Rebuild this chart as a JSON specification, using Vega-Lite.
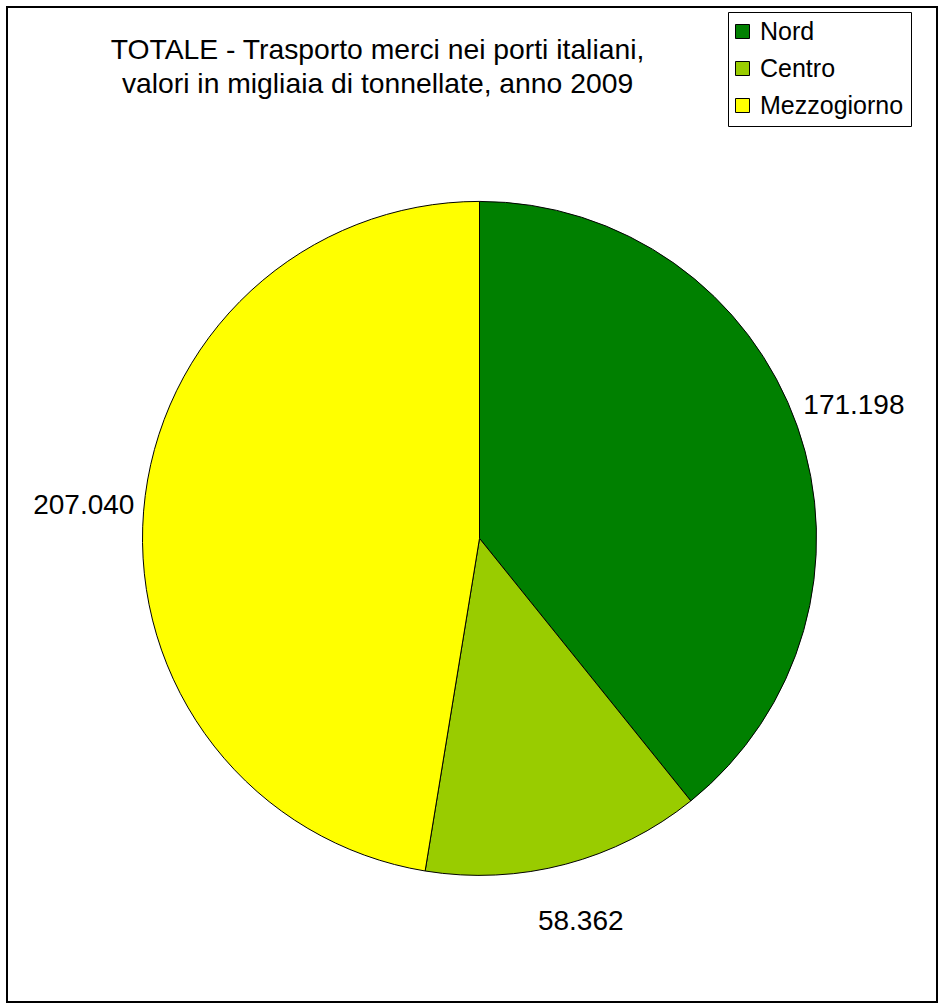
{
  "$schema": "https://vega.github.io/schema/vega-lite/v6.json",
  "autosize": "none",
  "width": 930,
  "height": 995,
  "padding": {"left": 7, "top": 7, "right": 7, "bottom": 6},
  "background": "white",
  "view": {"stroke": "black", "strokeWidth": 2},
  "config": {
    "view": {"stroke": "black", "strokeWidth": 2},
    "font": "Liberation Sans",
    "locale": {"number": {"decimal": ",", "thousands": ".", "grouping": [3], "currency": ["€", ""]}}
  },
  "title": {
    "text": ["TOTALE - Trasporto merci nei porti italiani,", "valori in migliaia di tonnellate, anno 2009"],
    "fontSize": 28.3,
    "font": "Liberation Sans",
    "fontWeight": "normal",
    "color": "black",
    "anchor": "middle",
    "frame": "group",
    "lineHeight": 34,
    "baseline": "top",
    "dx": -94.5,
    "offset": 0,
    "dy": 92
  },
  "data": {
    "values": [
      {"Regione": "Nord", "Valore": 171198},
      {"Regione": "Centro", "Valore": 58362},
      {"Regione": "Mezzogiorno", "Valore": 207040}
    ]
  },
  "transform": [{"window": [{"op": "row_number", "as": "ordine"}]}],
  "layer": [
    {
      "mark": {"type": "arc", "outerRadius": 337, "stroke": "black", "strokeWidth": 1, "x": 472.5, "y": 531.4},
      "encoding": {
        "theta": {"field": "Valore", "type": "quantitative", "stack": true},
        "order": {"field": "ordine", "type": "quantitative", "sort": "ascending"},
        "color": {
          "field": "Regione",
          "type": "nominal",
          "scale": {"domain": ["Nord", "Centro", "Mezzogiorno"], "range": ["#008000", "#99CC00", "#FFFF00"]},
          "legend": {
            "title": null,
            "orient": "none",
            "legendX": 721,
            "legendY": 5,
            "symbolType": "square",
            "symbolSize": 196,
            "symbolStrokeColor": "black",
            "symbolStrokeWidth": 1,
            "symbolOpacity": 1,
            "symbolOffset": -5,
            "labelFont": "Liberation Sans",
            "labelFontSize": 25,
            "labelColor": "black",
            "labelOffset": 5,
            "labelLimit": 400,
            "rowPadding": 11,
            "padding": 7,
            "strokeColor": "black",
            "fillColor": "white"
          }
        }
      }
    },
    {
      "mark": {"type": "text", "radius": 397, "fontSize": 28, "font": "Liberation Sans", "color": "black", "x": 472.5, "y": 531.4, "baseline": "middle", "align": "center"},
      "encoding": {
        "theta": {"field": "Valore", "type": "quantitative", "stack": true},
        "order": {"field": "ordine", "type": "quantitative", "sort": "ascending"},
        "text": {"field": "Valore", "type": "quantitative", "format": ",d"}
      }
    }
  ]
}
